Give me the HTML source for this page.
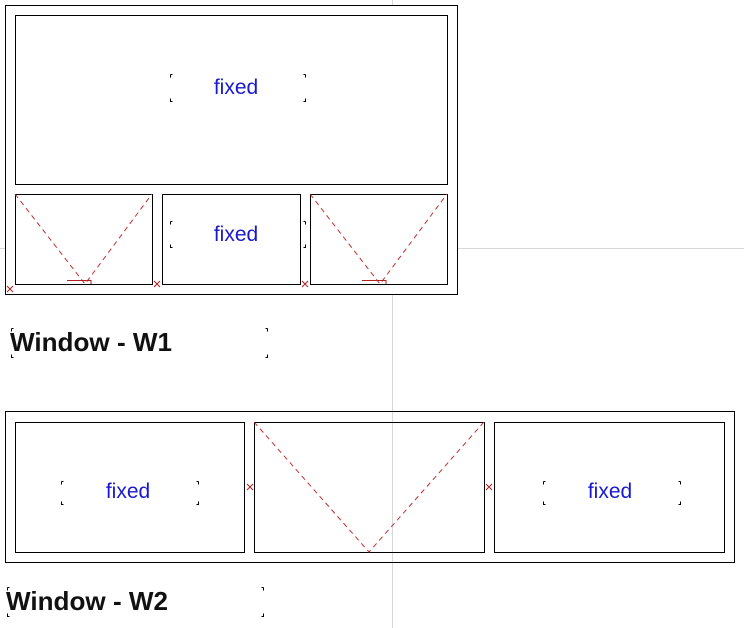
<!DOCTYPE html>
<html><head><meta charset="utf-8"><style>body{margin:0;background:#fff}svg{display:block}</style></head><body>
<svg width="744" height="628" viewBox="0 0 744 628" xmlns="http://www.w3.org/2000/svg" font-family="Liberation Sans, Arial, sans-serif">
<line x1="392.5" y1="0" x2="392.5" y2="628" stroke="#d8d8d8"/>
<line x1="0" y1="248.5" x2="744" y2="248.5" stroke="#d8d8d8"/>
<g fill="none" stroke="#000" stroke-width="1">
<rect x="5.5" y="5.5" width="452" height="289" fill="#fff"/>
<rect x="15.5" y="15.5" width="432" height="169"/>
<rect x="15.5" y="194.5" width="137" height="90"/>
<rect x="162.5" y="194.5" width="138" height="90"/>
<rect x="310.5" y="194.5" width="137" height="90"/>
<rect x="5.5" y="411.5" width="729" height="151"/>
<rect x="15.5" y="422.5" width="229" height="130"/>
<rect x="254.5" y="422.5" width="230" height="130"/>
<rect x="494.5" y="422.5" width="230" height="130"/>
</g>
<g fill="none" stroke="#c03030" stroke-dasharray="5,4">
<polyline points="15,194 85,284 152,194"/>
<polyline points="310,194 380,284 447,194"/>
<polyline points="254,422 369,552 484,422"/>
</g>
<g stroke="#b02020" fill="none">
<polyline points="67,280.5 91,280.5 91,284"/>
<polyline points="362,280.5 386,280.5 386,284"/>
<path d="M7 286l6 6M13 286l-6 6M154 281l6 6M160 281l-6 6M302 281l6 6M308 281l-6 6M247 484l6 6M253 484l-6 6M486 484l6 6M492 484l-6 6"/>
</g>
<g fill="#1a1acc" font-size="21" text-anchor="middle">
<text x="236" y="94">fixed</text>
<text x="236" y="241">fixed</text>
<text x="128" y="498">fixed</text>
<text x="610" y="498">fixed</text>
</g>
<g stroke="#000" fill="none">
<path d="M170.5 74.5h2M170.5 74.5v3M170.5 98.5v3h2M305.5 74.5h-2M305.5 74.5v3M305.5 98.5v3h-2"/>
<path d="M170.5 221.5h2M170.5 221.5v3M170.5 244.5v3h2M305.5 221.5h-2M305.5 221.5v3M305.5 244.5v3h-2"/>
<path d="M61.5 481.5h2M61.5 481.5v3M61.5 501.5v3h2M198.5 481.5h-2M198.5 481.5v3M198.5 501.5v3h-2"/>
<path d="M543.5 481.5h2M543.5 481.5v3M543.5 501.5v3h2M680.5 481.5h-2M680.5 481.5v3M680.5 501.5v3h-2"/>
<path d="M11.5 328.5h2M11.5 328.5v3M11.5 354.5v3h2M267.5 328.5h-2M267.5 328.5v3M267.5 354.5v3h-2"/>
<path d="M7.5 587.5h2M7.5 587.5v3M7.5 613.5v3h2M263.5 587.5h-2M263.5 587.5v3M263.5 613.5v3h-2"/>
</g>
<text x="10" y="351" font-size="26" font-weight="bold" fill="#111" textLength="162" lengthAdjust="spacingAndGlyphs">Window - W1</text>
<text x="6" y="610" font-size="26" font-weight="bold" fill="#111" textLength="162" lengthAdjust="spacingAndGlyphs">Window - W2</text>
</svg>
</body></html>
